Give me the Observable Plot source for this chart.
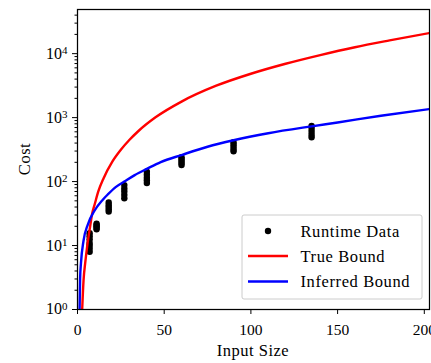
<!DOCTYPE html>
<html><head><meta charset="utf-8">
<script src="https://cdn.jsdelivr.net/npm/d3@7"></script>
<script src="https://cdn.jsdelivr.net/npm/@observablehq/plot@0.6"></script>
<style>
html,body{margin:0;padding:0;background:#fff;}
#chart svg{display:block;}
</style></head><body><div id="chart"></div>
<script>
const FONT = '"Liberation Serif", "DejaVu Serif", serif';

// Runtime measurements: input sizes and the cost samples at each size
const runtimeX = [7, 11, 18, 27, 40, 60, 90, 135];
const runtimeCost = [
  [8, 9, 10, 11, 12.5, 14, 15.6],
  [18, 19, 20, 21, 22],
  [34, 37, 40, 43, 47],
  [55, 62, 70, 78, 88],
  [95, 105, 115, 128, 143],
  [182, 195, 210, 225, 240],
  [297, 320, 350, 380, 411],
  [492, 540, 600, 670, 739]
];

// True bound curve
const trueBoundX    = [2.7, 3.5, 4.5, 5.6, 7.3, 8.5, 10, 12, 15, 20, 25, 30, 35, 45, 60, 80, 100, 120, 140, 160, 180, 203];
const trueBoundCost = [1, 2.9, 5.5, 9.8, 20, 32, 45, 70, 112, 203, 314, 450, 612, 1010, 1780, 3150, 4850, 6950, 9500, 12600, 16100, 21000];

// Inferred bound curve
const inferredBoundX    = [1.2, 1.5, 2, 3.5, 6, 9.8, 14.6, 17.5, 22, 27, 33, 40, 48, 60, 75, 90, 110, 135, 150, 175, 203];
const inferredBoundCost = [1, 3, 5.3, 12, 21.5, 35, 52, 63, 82, 100, 126, 158, 202, 260, 350, 442, 570, 731, 840, 1070, 1360];

const xTicks = [0, 50, 100, 150, 200];
const yTicks = [1, 10, 100, 1000, 10000];
const yMinorTicks = [];
for (const d of [1, 10, 100, 1000, 10000]) for (const m of [2,3,4,5,6,7,8,9]) if (d*m <= 49000) yMinorTicks.push(d*m);

const legendLabels = ["Runtime Data", "True Bound", "Inferred Bound"];
const trueColor = "#ff0000", inferredColor = "#0000ff";

const runtime = runtimeX.flatMap((x, i) => runtimeCost[i].map(c => ({x, cost: c})));
const trueB = trueBoundX.map((x, i) => ({x, cost: trueBoundCost[i]}));
const infB = inferredBoundX.map((x, i) => ({x, cost: inferredBoundCost[i]}));

const svg = Plot.plot({
  width: 431, height: 363,
  marginLeft: 77, marginRight: 2, marginTop: 9, marginBottom: 54,
  style: {fontFamily: FONT, fontSize: "15.5px", background: "white", color: "black"},
  x: {domain: [0, 203]},
  y: {type: "log", domain: [1, 49000]},
  marks: [
    Plot.dot(runtime, {x: "x", y: "cost", r: 3.2, fill: "black", stroke: "none", clip: true}),
    Plot.line(trueB, {x: "x", y: "cost", stroke: trueColor, strokeWidth: 2.4, curve: "monotone-x", clip: true}),
    Plot.line(infB, {x: "x", y: "cost", stroke: inferredColor, strokeWidth: 2.4, curve: "monotone-x", clip: true}),
    Plot.axisX({ticks: xTicks, tickSize: 5, tickPadding: 9.5, label: null, tickFormat: d => String(d)}),
    Plot.axisY({ticks: yTicks, tickSize: 5, tickPadding: 5, label: null, tickFormat: d => "10^" + Math.round(Math.log10(d))}),
    Plot.axisY({ticks: yMinorTicks, tickSize: 2.5, label: null, fill: "none"}),
    Plot.frame({stroke: "black", strokeWidth: 1.25})
  ]
});

document.getElementById("chart").appendChild(svg);
const s = d3.select(svg);

// superscript exponents on y tick labels
s.selectAll("text").each(function() {
  const t = this.textContent;
  const m = /^10\^(\d+)$/.exec(t);
  if (!m) return;
  const el = d3.select(this);
  el.text("");
  el.append("tspan").attr("font-size", "16px").text("10");
  el.append("tspan").attr("dy", "-0.45em").attr("font-size", "11px").text(m[1]);
});

// axis labels
s.append("text").attr("x", 253).attr("y", 356).attr("text-anchor", "middle").attr("letter-spacing", "0.5px")
  .attr("font-family", FONT).attr("font-size", "16.5px").attr("fill", "black").text("Input Size");
s.append("text").attr("transform", "translate(30,159) rotate(-90)").attr("text-anchor", "middle").attr("letter-spacing", "0.5px")
  .attr("font-family", FONT).attr("font-size", "16.5px").attr("fill", "black").text("Cost");

// legend
const lg = s.append("g").attr("font-family", FONT).attr("font-size", "16.5px").attr("text-anchor", "start").attr("letter-spacing", "0.6px");
lg.append("rect").attr("x", 242).attr("y", 215).attr("width", 180).attr("height", 84)
  .attr("rx", 2).attr("fill", "white").attr("fill-opacity", 0.85).attr("stroke", "#cccccc").attr("stroke-width", 1);
const rowsY = [231, 256, 281.5];
lg.append("circle").attr("cx", 268).attr("cy", rowsY[0]).attr("r", 3.2).attr("fill", "black");
lg.append("line").attr("x1", 248).attr("x2", 288).attr("y1", rowsY[1]).attr("y2", rowsY[1]).attr("stroke", trueColor).attr("stroke-width", 2.4);
lg.append("line").attr("x1", 248).attr("x2", 288).attr("y1", rowsY[2]).attr("y2", rowsY[2]).attr("stroke", inferredColor).attr("stroke-width", 2.4);
legendLabels.forEach((l, i) => {
  lg.append("text").attr("x", 300.5).attr("y", rowsY[i] + 5.5).attr("text-anchor", "start").attr("fill", "black").text(l);
});
</script></body></html>
